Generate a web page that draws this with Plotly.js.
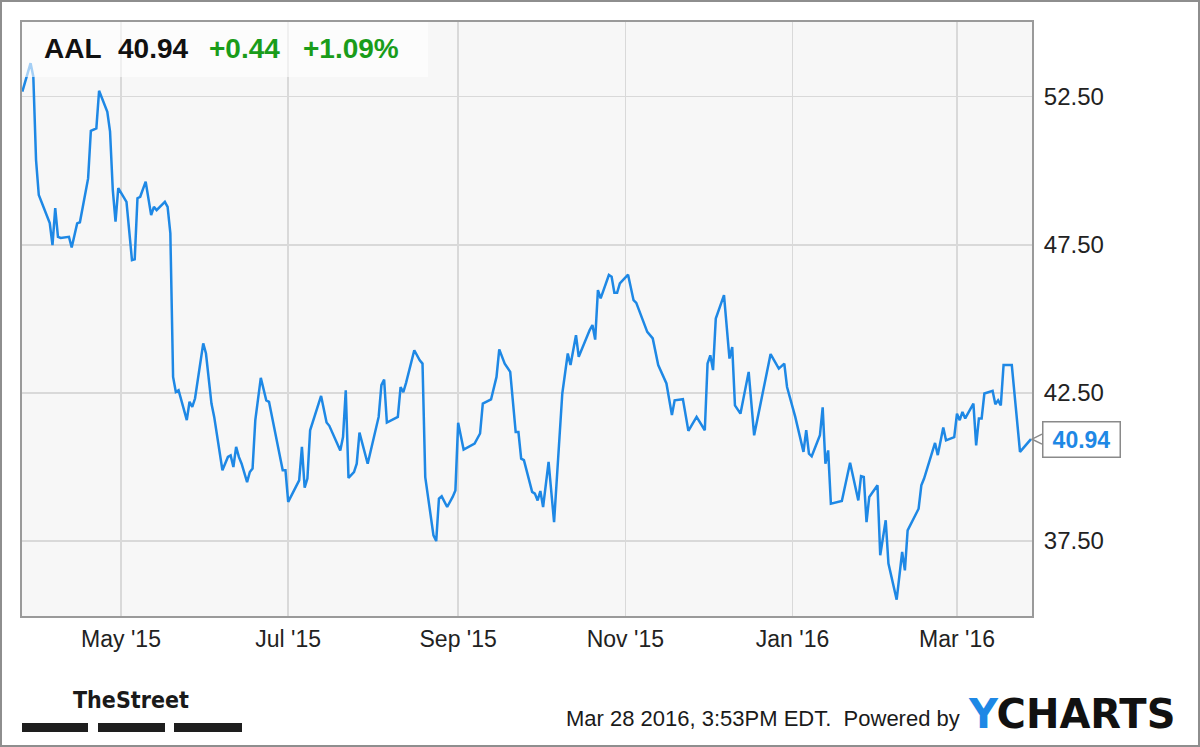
<!DOCTYPE html>
<html>
<head>
<meta charset="utf-8">
<script src="https://cdn.plot.ly/plotly-3.0.1.min.js"></script>
<style>
  html, body { margin: 0; padding: 0; background: #ffffff; }
  #frame { position: absolute; left: 0; top: 0; width: 1200px; height: 747px; box-sizing: border-box; border: 2px solid #8e8e8e; background: #fff; }
  #chart { width: 1196px; height: 743px; }
</style>
</head>
<body>
<div id="frame"><div id="chart"></div></div>
<script>
// ---- data ----
const ticker = "AAL";
const lastPrice = 40.94;
const change = "+0.44";
const changePct = "+1.09%";
const timestampText = "Mar 28 2016, 3:53PM EDT.  Powered by";

const dates = [
  "2015-03-26","2015-03-29","2015-03-30","2015-03-31",
  "2015-04-01","2015-04-03","2015-04-05","2015-04-06","2015-04-07","2015-04-08","2015-04-09","2015-04-12","2015-04-13","2015-04-15","2015-04-16","2015-04-19","2015-04-20","2015-04-22","2015-04-23","2015-04-26","2015-04-27","2015-04-28","2015-04-29","2015-04-30",
  "2015-05-03","2015-05-05","2015-05-06","2015-05-07","2015-05-08","2015-05-10","2015-05-12","2015-05-13","2015-05-14","2015-05-17","2015-05-18","2015-05-19","2015-05-20","2015-05-21","2015-05-22","2015-05-25","2015-05-26","2015-05-27","2015-05-28","2015-05-31",
  "2015-06-01","2015-06-03","2015-06-04","2015-06-07","2015-06-09","2015-06-10","2015-06-11","2015-06-12","2015-06-13","2015-06-14","2015-06-16","2015-06-17","2015-06-18","2015-06-19","2015-06-21","2015-06-23","2015-06-24","2015-06-29","2015-06-30",
  "2015-07-01","2015-07-04","2015-07-05","2015-07-06","2015-07-07","2015-07-08","2015-07-09","2015-07-13","2015-07-15","2015-07-16","2015-07-20","2015-07-21","2015-07-22","2015-07-23","2015-07-25","2015-07-26","2015-07-27","2015-07-30",
  "2015-08-01","2015-08-03","2015-08-04","2015-08-05","2015-08-06","2015-08-10","2015-08-11","2015-08-12","2015-08-13","2015-08-16","2015-08-18","2015-08-19","2015-08-20","2015-08-23","2015-08-24","2015-08-25","2015-08-26","2015-08-28","2015-08-30","2015-08-31",
  "2015-09-01","2015-09-03","2015-09-07","2015-09-09","2015-09-10","2015-09-13","2015-09-15","2015-09-16","2015-09-18","2015-09-20","2015-09-22","2015-09-23","2015-09-24","2015-09-25","2015-09-28","2015-09-29","2015-09-30",
  "2015-10-01","2015-10-02","2015-10-04","2015-10-06","2015-10-07","2015-10-09","2015-10-11","2015-10-12","2015-10-14","2015-10-15","2015-10-19","2015-10-20","2015-10-21","2015-10-22","2015-10-23","2015-10-26","2015-10-27","2015-10-28","2015-10-29","2015-10-30",
  "2015-11-02","2015-11-04","2015-11-05","2015-11-09","2015-11-11","2015-11-13","2015-11-16","2015-11-18","2015-11-19","2015-11-22","2015-11-24","2015-11-27","2015-11-30",
  "2015-12-01","2015-12-02","2015-12-03","2015-12-04","2015-12-07","2015-12-09","2015-12-10","2015-12-11","2015-12-13","2015-12-16","2015-12-18","2015-12-24","2015-12-27","2015-12-29","2015-12-30",
  "2016-01-02","2016-01-05","2016-01-06","2016-01-07","2016-01-08","2016-01-11","2016-01-12","2016-01-13","2016-01-14","2016-01-15","2016-01-19","2016-01-22","2016-01-25","2016-01-26","2016-01-27","2016-01-28","2016-01-29",
  "2016-02-01","2016-02-02","2016-02-04","2016-02-05","2016-02-08","2016-02-10","2016-02-11","2016-02-12","2016-02-16","2016-02-17","2016-02-18","2016-02-22","2016-02-23","2016-02-25","2016-02-26","2016-02-29",
  "2016-03-01","2016-03-02","2016-03-03","2016-03-04","2016-03-07","2016-03-08","2016-03-09","2016-03-10","2016-03-11","2016-03-14","2016-03-15","2016-03-16","2016-03-17","2016-03-18","2016-03-21","2016-03-24","2016-03-28"
];

const prices = [
  52.67,53.63,53.18,50.36,
  49.18,48.67,48.23,47.49,48.74,47.77,47.73,47.77,47.41,48.22,48.26,49.74,51.35,51.43,52.70,51.99,51.32,49.35,48.28,49.41,
  48.95,46.98,47.01,49.07,49.12,49.63,48.50,48.78,48.67,48.95,48.78,47.89,43.04,42.53,42.59,41.58,42.20,42.03,42.31,44.17,
  43.83,42.14,41.69,39.89,40.34,40.39,40.00,40.68,40.34,40.11,39.49,39.83,39.95,41.58,43.01,42.25,42.20,39.89,39.89,
  38.82,39.38,39.55,40.68,39.30,39.61,41.24,42.40,41.50,41.39,40.56,41.01,42.59,39.63,39.83,40.11,41.16,40.11,
  40.90,41.69,42.76,42.95,41.50,41.69,42.70,42.53,42.84,43.94,43.60,43.49,39.66,37.69,37.50,38.93,39.01,38.65,38.99,39.21,
  41.49,40.59,40.79,41.13,42.14,42.28,43.04,43.97,43.49,43.21,41.18,41.18,40.28,40.23,39.16,39.10,38.87,
  39.19,38.65,40.17,38.14,39.72,42.48,43.83,43.44,44.45,43.72,44.62,44.79,44.30,45.97,45.69,46.48,46.42,45.88,45.88,46.20,
  46.49,45.63,45.54,44.56,44.34,43.44,42.82,41.75,42.25,42.29,41.22,41.69,41.24,
  43.49,43.77,43.27,45.01,45.80,43.66,44.05,42.08,41.80,43.21,41.07,43.81,43.32,43.49,42.70,
  41.69,40.51,41.24,40.45,40.36,41.07,42.01,40.11,40.56,38.76,38.85,40.14,38.87,39.69,39.66,38.14,38.99,
  39.38,37.02,38.20,36.74,35.52,37.13,36.51,37.86,38.59,39.38,39.61,40.81,40.40,41.33,40.90,41.01,
  41.80,41.58,41.86,41.64,42.14,40.73,41.64,41.64,42.48,42.57,42.12,42.25,42.08,43.44,43.44,40.51,40.94
];

const yTickVals = [37.5, 42.5, 47.5, 52.5];

// ---- layout helpers (page pixel -> paper coordinates) ----
const PL = 22, PR = 1032, PT = 22, PB = 616;
const px = x => (x - PL) / (PR - PL);
const py = y => (PB - y) / (PB - PT);

const FONT = "Liberation Sans, Arial, Helvetica, sans-serif";
const BLUE = "#1e88e5";
const GREEN = "#1a9c1a";

const trace = {
  x: dates,
  y: prices,
  type: "scatter",
  mode: "lines",
  line: { color: BLUE, width: 2.5 },
  hoverinfo: "x+y"
};

const headerFont = { family: FONT, size: 28, color: "#111" };

const layout = {
  width: 1196,
  height: 743,
  margin: { l: 20, r: 166, t: 20, b: 129 },
  paper_bgcolor: "#ffffff",
  plot_bgcolor: "#f7f7f7",
  showlegend: false,
  xaxis: {
    type: "date",
    range: ["2015-03-25 21:00", "2016-03-28 09:00"],
    tick0: "2015-05-01",
    dtick: "M2",
    tickformat: "%b '%y",
    showgrid: true,
    gridcolor: "#d9d9d9",
    gridwidth: 1.5,
    zeroline: false,
    showline: true,
    mirror: true,
    linecolor: "#9a9a9a",
    linewidth: 2,
    ticks: "",
    ticklabelstandoff: 1,
    tickfont: { family: FONT, size: 23, color: "#222" }
  },
  yaxis: {
    side: "right",
    range: [34.97, 55.02],
    tickvals: yTickVals,
    tickformat: ".2f",
    showgrid: true,
    gridcolor: "#d9d9d9",
    gridwidth: 1.5,
    zeroline: false,
    showline: true,
    mirror: true,
    linecolor: "#9a9a9a",
    linewidth: 2,
    ticks: "",
    ticklabelstandoff: 5,
    tickfont: { family: FONT, size: 24, color: "#222" }
  },
  shapes: [
    // header backdrop
    { type: "rect", xref: "paper", yref: "paper", x0: 0, x1: px(428), y0: py(77), y1: 1,
      fillcolor: "rgba(255,255,255,0.6)", line: { width: 0 }, layer: "above" },
    // TheStreet bars
    { type: "rect", xref: "paper", yref: "paper", x0: px(22), x1: px(88), y0: py(732), y1: py(723),
      fillcolor: "#1e1e1e", line: { width: 0 } },
    { type: "rect", xref: "paper", yref: "paper", x0: px(98), x1: px(165), y0: py(732), y1: py(723),
      fillcolor: "#1e1e1e", line: { width: 0 } },
    { type: "rect", xref: "paper", yref: "paper", x0: px(174), x1: px(242), y0: py(732), y1: py(723),
      fillcolor: "#1e1e1e", line: { width: 0 } },
    // callout notch
    { type: "path", xref: "paper", yref: "y",
      path: "M " + px(1042) + "," + (lastPrice + 0.17) + " L " + px(1032) + "," + lastPrice + " L " + px(1042) + "," + (lastPrice - 0.17),
      line: { color: "#8a8a8a", width: 1.5 } }
  ],
  annotations: [
    { xref: "paper", yref: "paper", x: px(42), y: py(49), xanchor: "left", yanchor: "middle",
      text: "<b>" + ticker + "</b>", showarrow: false, font: headerFont },
    { xref: "paper", yref: "paper", x: px(116), y: py(49), xanchor: "left", yanchor: "middle",
      text: "<b>" + lastPrice.toFixed(2) + "</b>", showarrow: false, font: headerFont },
    { xref: "paper", yref: "paper", x: px(207), y: py(49), xanchor: "left", yanchor: "middle",
      text: "<b>" + change + "</b>", showarrow: false, font: Object.assign({}, headerFont, { color: GREEN }) },
    { xref: "paper", yref: "paper", x: px(301), y: py(49), xanchor: "left", yanchor: "middle",
      text: "<b>" + changePct + "</b>", showarrow: false, font: Object.assign({}, headerFont, { color: GREEN }) },
    // last value callout
    { xref: "paper", yref: "y", x: px(1042), y: lastPrice, xanchor: "left", yanchor: "middle",
      text: "<b>" + lastPrice.toFixed(2) + "</b>", showarrow: false,
      font: { family: FONT, size: 23, color: BLUE },
      bgcolor: "#ffffff", bordercolor: "#8a8a8a", borderwidth: 1.5, borderpad: 3,
      width: 70, height: 28, align: "center" },
    // TheStreet logo
    { xref: "paper", yref: "paper", x: px(131), y: py(700), xanchor: "center", yanchor: "middle",
      text: "<b>TheStreet</b>", showarrow: false,
      font: { family: "Liberation Sans Narrow, DejaVu Sans Condensed, Arial Narrow, sans-serif", size: 23, color: "#1a1a1a" } },
    // timestamp
    { xref: "paper", yref: "paper", x: px(564), y: py(718), xanchor: "left", yanchor: "middle",
      text: timestampText, showarrow: false,
      font: { family: FONT, size: 22, color: "#1a1a1a" } },
    // YCHARTS logo
    { xref: "paper", yref: "paper", x: px(1071), y: py(714), xanchor: "center", yanchor: "middle",
      text: "<b><span style='color:" + BLUE + "'>Y</span>CHARTS</b>", showarrow: false,
      font: { family: "DejaVu Sans, Liberation Sans, sans-serif", size: 40, color: "#111111" } }
  ]
};

Plotly.newPlot("chart", [trace], layout, { displayModeBar: false, staticPlot: true });
</script>
</body>
</html>
